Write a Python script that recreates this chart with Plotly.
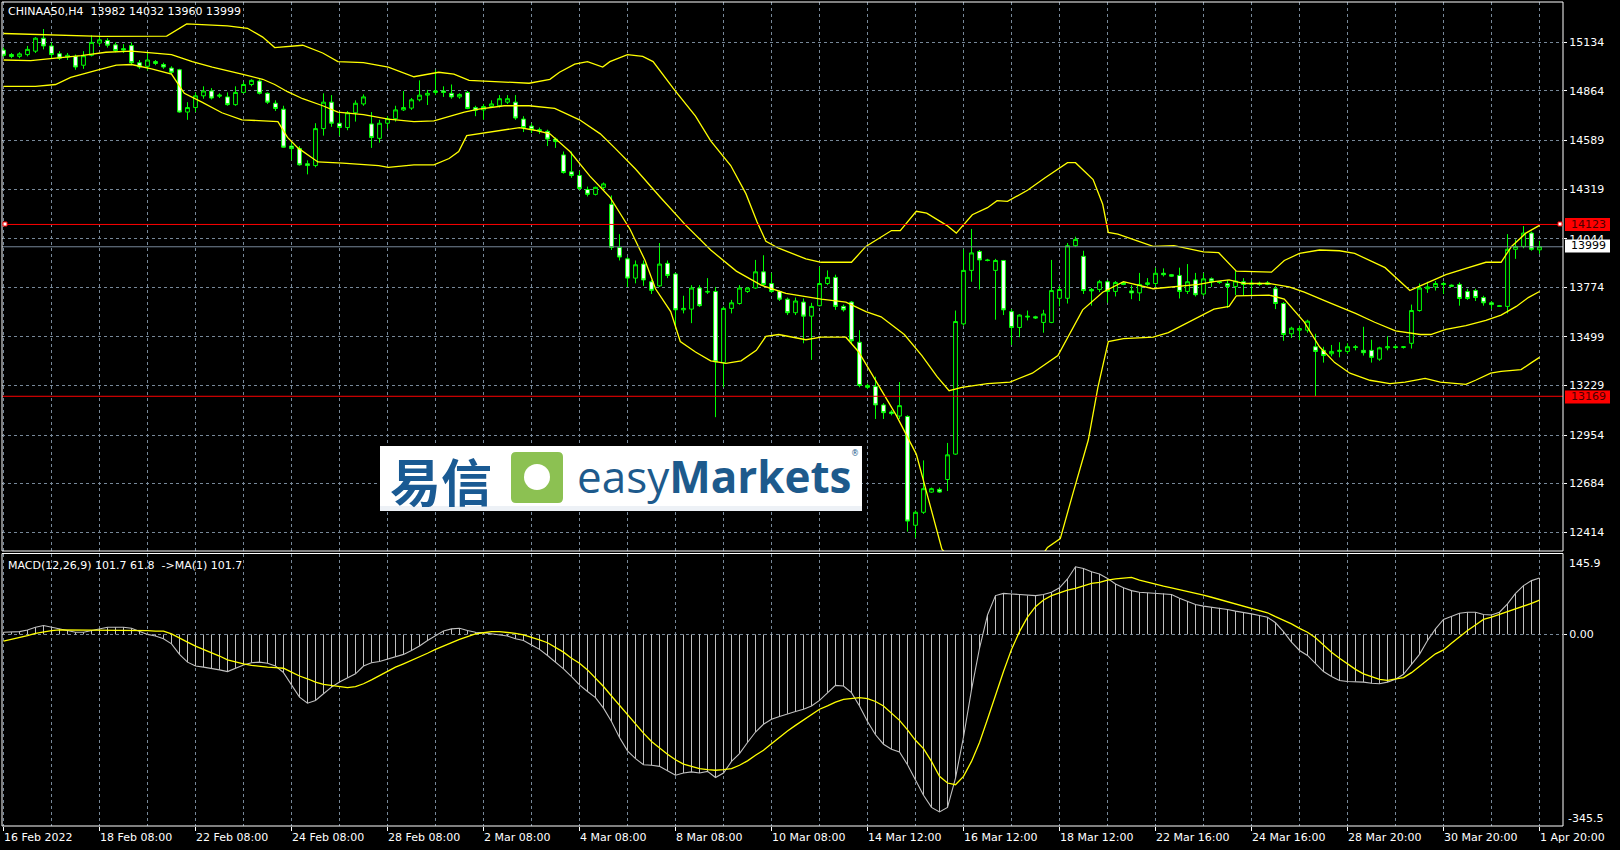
import plotly.graph_objects as go

# ------------------------------------------------------------------ data
symbol_title = "CHINAA50,H4\u00a0\u00a013982 14032 13960 13999"
macd_title = "MACD(12,26,9) 101.7 61.8\u00a0\u00a0->MA(1) 101.7"

opens = [
    15091, 15066, 15056, 15066, 15085, 15157, 15114, 15071, 15052, 15056,
    15007, 15062, 15130, 15144, 15120, 15099, 15116, 15021, 15001, 15027,
    15011, 14991, 14982, 14747, 14772, 14837, 14864, 14835, 14831, 14788,
    14856, 14900, 14919, 14851, 14796, 14763, 14558, 14544, 14460, 14450,
    14655, 14802, 14685, 14661, 14743, 14792, 14681, 14601, 14685, 14710,
    14759, 14769, 14815, 14841, 14856, 14864, 14851, 14831, 14856, 14772,
    14759, 14778, 14782, 14802, 14802, 14708, 14669, 14649, 14640, 14597,
    14509, 14415, 14395, 14317, 14290, 14329, 14235, 13995, 13932, 13825,
    13903, 13805, 13782, 13907, 13848, 13649, 13653, 13770, 13747, 13751,
    13356, 13657, 13684, 13751, 13770, 13860, 13795, 13751, 13708, 13633,
    13692, 13614, 13672, 13795, 13829, 13668, 13692, 13469, 13229, 13223,
    13121, 13082, 13059, 13057, 12453, 12525, 12637, 12652, 12707, 12848,
    13571, 13868, 13973, 13926, 13868, 13923, 13639, 13551, 13614, 13610,
    13579, 13579, 13713, 13713, 14005, 13946, 13762, 13762, 13805, 13751,
    13801, 13754, 13743, 13790, 13795, 13852, 13844, 13840, 13751, 13815,
    13737, 13821, 13805, 13794, 13778, 13805, 13790, 13797, 13790, 13766,
    13684, 13516, 13536, 13536, 13444, 13424, 13405, 13418, 13418, 13444,
    13424, 13424, 13375, 13438, 13444, 13440, 13463, 13645, 13766, 13776,
    13795, 13786, 13790, 13751, 13756, 13717, 13688, 13672, 13668, 13985,
    14001, 14075, 13982,
]
highs = [
    15105, 15075, 15079, 15114, 15163, 15208, 15134, 15085, 15075, 15066,
    15085, 15173, 15173, 15157, 15134, 15124, 15134, 15036, 15075, 15036,
    15021, 15001, 14987, 14802, 14856, 14890, 14880, 14851, 14856, 14890,
    14915, 14929, 14929, 14856, 14812, 14782, 14577, 14558, 14479, 14685,
    14851, 14841, 14747, 14753, 14812, 14845, 14747, 14704, 14724, 14782,
    14864, 14825, 14923, 14870, 14982, 14890, 14900, 14851, 14864, 14782,
    14792, 14812, 14841, 14841, 14841, 14724, 14685, 14661, 14649, 14606,
    14528, 14528, 14421, 14333, 14333, 14356, 14284, 14069, 13942, 13923,
    13923, 13815, 14020, 13923, 13854, 13727, 13786, 13786, 13825, 13776,
    13668, 13704, 13786, 13776, 13926, 13952, 13854, 13756, 13717, 13717,
    13712, 13688, 13887, 13868, 13844, 13678, 13698, 13536, 13239, 13278,
    13131, 13092, 13248, 13063, 12535, 12813, 12662, 12662, 12910, 13645,
    13985, 14098, 13981, 13932, 13932, 13926, 13653, 13624, 13645, 13616,
    13649, 13926, 13782, 14020, 14055, 13977, 13770, 13815, 13815, 13809,
    13805, 13786, 13854, 13825, 13883, 13879, 13848, 13883, 13903, 13854,
    13854, 13829, 13809, 13815, 13868, 13825, 13815, 13805, 13809, 13782,
    13692, 13555, 13561, 13594, 13516, 13444, 13454, 13469, 13463, 13454,
    13555, 13483, 13444, 13502, 13454, 13448, 13678, 13795, 13805, 13809,
    13805, 13790, 13801, 13766, 13766, 13727, 13698, 13676, 14069, 14040,
    14114, 14083, 14032,
]
lows = [
    15052, 15046, 15046, 15056, 15075, 15095, 15046, 15036, 15036, 14982,
    14987, 15056, 15114, 15105, 15079, 15075, 15007, 14987, 14978, 15007,
    14987, 14958, 14743, 14704, 14747, 14821, 14817, 14825, 14782, 14782,
    14851, 14890, 14845, 14792, 14753, 14548, 14479, 14450, 14401, 14440,
    14616, 14665, 14616, 14646, 14694, 14782, 14548, 14577, 14655, 14694,
    14753, 14759, 14806, 14786, 14841, 14831, 14821, 14821, 14763, 14724,
    14704, 14772, 14772, 14792, 14704, 14636, 14630, 14626, 14558, 14548,
    14405, 14382, 14313, 14278, 14284, 14313, 13981, 13923, 13776, 13796,
    13782, 13737, 13776, 13825, 13541, 13629, 13575, 13665, 13737, 13053,
    13219, 13629, 13678, 13743, 13766, 13782, 13743, 13698, 13620, 13620,
    13463, 13371, 13668, 13786, 13649, 13639, 13463, 13219, 13209, 13043,
    13043, 13063, 13043, 12418, 12383, 12516, 12633, 12633, 12643, 12844,
    13561, 13805, 13762, 13918, 13594, 13620, 13454, 13497, 13590, 13598,
    13522, 13575, 13668, 13684, 13997, 13737, 13672, 13747, 13688, 13723,
    13786, 13708, 13698, 13782, 13776, 13834, 13832, 13712, 13737, 13723,
    13727, 13776, 13793, 13659, 13731, 13727, 13727, 13782, 13786, 13653,
    13477, 13493, 13483, 13522, 13170, 13356, 13391, 13385, 13405, 13424,
    13395, 13356, 13366, 13424, 13430, 13434, 13434, 13639, 13743, 13756,
    13737, 13776, 13672, 13704, 13698, 13672, 13653, 13665, 13629, 13932,
    13991, 13977, 13960,
]
closes = [
    15062, 15056, 15070, 15095, 15157, 15114, 15066, 15046, 15062, 14997,
    15060, 15134, 15148, 15118, 15089, 15091, 15021, 14997, 15036, 15017,
    14997, 14968, 14747, 14772, 14837, 14864, 14825, 14841, 14788, 14856,
    14900, 14923, 14851, 14802, 14767, 14552, 14544, 14454, 14450, 14655,
    14802, 14685, 14661, 14743, 14796, 14831, 14606, 14685, 14710, 14759,
    14772, 14815, 14841, 14851, 14864, 14856, 14831, 14845, 14767, 14757,
    14778, 14792, 14821, 14821, 14714, 14661, 14649, 14642, 14597, 14583,
    14411, 14395, 14323, 14290, 14329, 14348, 13995, 13942, 13825, 13899,
    13815, 13757, 13903, 13840, 13649, 13657, 13770, 13672, 13751, 13360,
    13657, 13688, 13770, 13770, 13860, 13790, 13751, 13708, 13633, 13698,
    13614, 13668, 13795, 13829, 13668, 13649, 13477, 13229, 13219, 13121,
    13078, 13073, 13117, 12476, 12525, 12656, 12656, 12637, 12844, 13584,
    13868, 13965, 13926, 13923, 13923, 13649, 13551, 13620, 13610, 13604,
    13626, 13756, 13762, 14005, 14040, 13756, 13754, 13805, 13751, 13801,
    13790, 13743, 13790, 13799, 13852, 13844, 13836, 13751, 13805, 13733,
    13821, 13805, 13801, 13778, 13809, 13790, 13797, 13790, 13799, 13684,
    13512, 13547, 13545, 13586, 13418, 13395, 13418, 13424, 13444, 13440,
    13411, 13385, 13438, 13444, 13440, 13444, 13645, 13770, 13776, 13795,
    13790, 13780, 13712, 13712, 13717, 13688, 13678, 13668, 13985, 14001,
    14075, 13985, 13999,
]

# Bollinger bands: (bar index, price)
bb_upper = [
    (0, 15183), (5.9, 15177), (12.2, 15167), (20.4, 15169), (21.7, 15202), (22.9, 15236),
    (28, 15226), (30.5, 15212), (32.4, 15163), (33.9, 15105), (37.4, 15118), (39.9, 15075),
    (41.8, 15027), (45, 15021), (48.1, 14997), (51.3, 14943), (54.4, 14968), (56.3, 14958),
    (58.2, 14923), (62.6, 14913), (65.7, 14907), (68.3, 14929), (69.5, 14968), (71.4, 15013),
    (73, 15027), (74.9, 14997), (75.8, 15027), (78, 15066), (79.9, 15056), (81.2, 15027),
    (83.7, 14880), (86.5, 14724), (88.4, 14587), (90.9, 14450), (92.8, 14294), (94.2, 14137),
    (95.3, 14030), (96.9, 13991), (100.3, 13932), (102.2, 13913), (106, 13913), (107.8, 14001),
    (111, 14089), (112.1, 14089), (114.1, 14196), (115.4, 14186), (117.9, 14118), (119.1, 14075),
    (121.1, 14177), (123, 14216), (124.2, 14255), (125.5, 14251), (128, 14313), (130.2, 14382),
    (133, 14466), (134, 14466), (136.2, 14372), (137.4, 14235), (138.1, 14079), (139.3, 14069),
    (143.7, 14001), (146.3, 14005), (150, 13971), (151.9, 13966), (154.1, 13864), (158.5, 13858),
    (160.1, 13923), (162, 13962), (164.5, 13981), (167, 13977), (168.9, 13962), (172.7, 13883),
    (175.8, 13756), (177.1, 13782), (180.3, 13844), (182.8, 13879), (185.3, 13913), (187.2, 13913),
    (188.5, 14001), (190.3, 14075), (192, 14118),
]
bb_middle = [
    (0, 15036), (3.4, 15032), (6.5, 15046), (9.7, 15060), (12.8, 15079), (16, 15085),
    (18.5, 15075), (21, 15066), (23.6, 15027), (26.1, 14997), (29.8, 14958), (32.4, 14929),
    (33.9, 14900), (35.5, 14860), (37.4, 14821), (39.9, 14782), (41.8, 14747), (45, 14733),
    (48.1, 14708), (51.3, 14694), (53.8, 14698), (55.7, 14724), (57.6, 14747), (59.4, 14763),
    (62.6, 14782), (65.7, 14782), (68.9, 14767), (72, 14704), (74.6, 14626), (76.4, 14548),
    (79, 14431), (82.1, 14274), (85.3, 14118), (88.4, 13981), (91.6, 13864), (94.7, 13786),
    (97.8, 13740), (102.2, 13708), (105.3, 13692), (107.8, 13639), (109.7, 13610), (112.6, 13512),
    (114.8, 13395), (116.7, 13278), (118.2, 13200), (119.8, 13219), (123, 13239), (125.8, 13248),
    (128.6, 13297), (131.8, 13395), (133.7, 13551), (134.9, 13649), (137.4, 13747), (140, 13805),
    (143.7, 13766), (146.3, 13776), (149.4, 13790), (151.3, 13805), (153.2, 13815), (155.1, 13795),
    (158.2, 13795), (160.7, 13776), (162.6, 13747), (165.8, 13688), (169, 13629), (171.4, 13580),
    (174, 13532), (177.1, 13512), (178.4, 13512), (180.3, 13541), (182.8, 13561), (185.3, 13590),
    (187.2, 13620), (189.1, 13668), (190.6, 13717), (192, 13751),
]
bb_lower = [
    (0, 14890), (4, 14890), (6.5, 14900), (8.4, 14939), (11.6, 14978), (14.1, 15007),
    (16, 15011), (18.5, 14987), (21, 14958), (22.6, 14851), (24.8, 14802), (27.3, 14743),
    (29.8, 14704), (32.4, 14700), (34.3, 14694), (35.5, 14606), (36.8, 14548), (39.3, 14470),
    (42.4, 14464), (46.9, 14450), (48.1, 14440), (51.3, 14454), (53.8, 14454), (55.7, 14489),
    (56.9, 14528), (57.9, 14616), (60.1, 14630), (62.6, 14646), (64.5, 14661), (66.4, 14646),
    (68.3, 14626), (70.8, 14528), (73.3, 14391), (75.8, 14274), (78.3, 14098), (80.2, 13923),
    (81.5, 13766), (83.4, 13639), (84.6, 13473), (86.5, 13415), (88.4, 13366), (90.3, 13352),
    (92.2, 13366), (94.1, 13424), (95.3, 13502), (96.9, 13512), (100.3, 13483), (102.2, 13497),
    (105.3, 13497), (106.9, 13415), (108.2, 13317), (109.7, 13200), (111.6, 13063), (114.1, 12848),
    (115.4, 12633), (116.3, 12476), (117.3, 12320), (119, 12240), (121, 12200), (123, 12180),
    (125, 12170), (127, 12180), (129, 12230), (130.5, 12330), (132.1, 12379), (133.7, 12633),
    (135.6, 12926), (136.8, 13219), (138.1, 13473), (140, 13489), (143.7, 13497), (145.6, 13522),
    (149.4, 13610), (151.3, 13653), (153.2, 13668), (154.1, 13727), (158.2, 13731), (160.1, 13708),
    (162.6, 13581), (164.5, 13444), (166.4, 13356), (168.3, 13297), (170.8, 13258), (173.3, 13239),
    (175.2, 13248), (177.7, 13268), (179.6, 13248), (182.8, 13235), (184, 13258), (185.9, 13297),
    (187.2, 13307), (189.7, 13317), (191, 13356), (192, 13385),
]

macd_main = [
    4, 4, 5, 8, 13, 16, 13, 10, 8, 4,
    4, 7, 10, 13, 13, 13, 11, 5, 0, -3,
    -8, -17, -36, -50, -57, -59, -61, -64, -67, -61,
    -55, -51, -50, -52, -57, -69, -91, -113, -124, -119,
    -107, -95, -86, -78, -71, -57, -51, -49, -45, -40,
    -36, -29, -21, -11, -2, 6, 10, 11, 7, 4,
    3, 1, -1, -3, -8, -11, -19, -27, -38, -50,
    -62, -76, -91, -103, -114, -133, -157, -186, -210, -224,
    -235, -236, -238, -246, -254, -250, -248, -250, -247, -258,
    -250, -229, -215, -195, -176, -162, -153, -148, -143, -139,
    -135, -129, -119, -105, -92, -93, -105, -129, -157, -181,
    -198, -207, -212, -235, -262, -290, -312, -320, -312, -259,
    -185, -100, -25, 35, 70, 74, 73, 72, 70, 70,
    72, 76, 84, 100, 122, 119, 113, 109, 101, 91,
    84, 79, 76, 75, 74, 74, 72, 65, 60, 54,
    51, 49, 48, 45, 42, 40, 37, 34, 31, 21,
    5, -14, -29, -38, -52, -67, -76, -83, -85, -85,
    -86, -88, -89, -86, -81, -72, -55, -36, -11, 10,
    27, 33, 38, 40, 40, 36, 35, 40, 55, 74,
    88, 97, 101.7,
]
macd_signal = [
    -12, -9, -6, -2, 2, 5, 7, 8, 8, 8,
    8, 7, 7, 7, 7, 7, 7, 7, 7, 6,
    6, 1, -7, -14, -21, -27, -32, -39, -46, -50,
    -53, -56, -58, -59, -60, -61, -68, -75, -80, -86,
    -90, -92, -94, -96, -94, -89, -82, -74, -67, -59,
    -53, -47, -41, -34, -27, -21, -14, -9, -4, 1,
    3, 5, 5, 4, 2, -1, -5, -10, -15, -23,
    -32, -43, -52, -64, -79, -94, -111, -128, -145, -162,
    -178, -193, -205, -216, -226, -234, -238, -242, -244, -245,
    -244, -242, -236, -228, -218, -209, -197, -185, -174, -164,
    -154, -145, -135, -129, -122, -117, -115, -114, -116, -121,
    -129, -142, -155, -172, -191, -206, -229, -256, -268, -271,
    -256, -229, -195, -153, -109, -67, -27, 5, 31, 50,
    62, 70, 75, 80, 83, 88, 92, 94, 98, 100,
    102, 103, 98, 94, 91, 87, 84, 81, 77, 74,
    71, 67, 63, 59, 56, 52, 48, 44, 39, 32,
    26, 19, 11, 4, -6, -19, -32, -43, -53, -63,
    -71, -76, -81, -83, -81, -78, -69, -57, -46, -35,
    -28, -16, -4, 7, 17, 27, 31, 36, 40, 46,
    51, 56, 61.8,
]

time_labels = ["16 Feb 2022", "18 Feb 08:00", "22 Feb 08:00", "24 Feb 08:00", "28 Feb 08:00",
               "2 Mar 08:00", "4 Mar 08:00", "8 Mar 08:00", "10 Mar 08:00", "14 Mar 12:00",
               "16 Mar 12:00", "18 Mar 12:00", "22 Mar 16:00", "24 Mar 16:00", "28 Mar 20:00",
               "30 Mar 20:00", "1 Apr 20:00"]
bars_per_label = 12
bars_per_grid = 6
price_ticks = [15134, 14864, 14589, 14319, 14044, 13774, 13499, 13229, 12954, 12684, 12414]
level_upper = 14123
level_lower = 13169
bid_price = 13999
macd_top, macd_bottom = 145.9, -345.5

# ------------------------------------------------------------------ geometry
W, H = 1620, 850
ML, MR, MT, MB = 2, 57, 2, 24
PW, PH = W - ML - MR, H - MT - MB


def X(px):
    return (px - ML) / PW


def Y(py):
    return (H - MB - py) / PH


GRID = "#778899"
LIME = "#00FF00"
YEL = "#FFFF00"
SILVER = "#C0C0C0"
FONT = "DejaVu Sans"

n = len(closes)
idx = list(range(n))
x_range = [-0.1875, -0.1875 + PW / 8.0]
label_idx = [i * bars_per_label for i in range(len(time_labels))]

fig = go.Figure()

fig.add_trace(go.Candlestick(
    x=idx, open=opens, high=highs, low=lows, close=closes,
    increasing=dict(line=dict(color=LIME, width=1), fillcolor="#000000"),
    decreasing=dict(line=dict(color=LIME, width=1), fillcolor="#FFFFFF"),
    whiskerwidth=0, xaxis="x", yaxis="y", showlegend=False, hoverinfo="none"))

for band in (bb_upper, bb_middle, bb_lower):
    fig.add_trace(go.Scatter(x=[p[0] for p in band], y=[p[1] for p in band], mode="lines",
                             line=dict(color=YEL, width=1.3), xaxis="x", yaxis="y",
                             showlegend=False, hoverinfo="skip"))

hx, hy = [], []
for i, v in zip(idx, macd_main):
    hx += [i, i, None]
    hy += [0, v, None]
fig.add_trace(go.Scatter(x=hx, y=hy, mode="lines", line=dict(color=SILVER, width=1),
                         xaxis="x2", yaxis="y2", showlegend=False, hoverinfo="skip"))
fig.add_trace(go.Scatter(x=idx, y=macd_main, mode="lines", line=dict(color=SILVER, width=1.1),
                         xaxis="x2", yaxis="y2", showlegend=False, hoverinfo="skip"))
fig.add_trace(go.Scatter(x=idx, y=macd_signal, mode="lines", line=dict(color=YEL, width=1.3),
                         xaxis="x2", yaxis="y2", showlegend=False, hoverinfo="skip"))

grid_common = dict(showgrid=True, gridcolor=GRID, griddash="3px,3px", gridwidth=1, zeroline=False)
minor_grid = dict(tickmode="linear", tick0=0, dtick=bars_per_grid, showgrid=True,
                  gridcolor=GRID, griddash="3px,3px", gridwidth=1, ticks="")

main_bottom_py, macd_top_py = 551, 553.5
y_main_range = [12310, 15358]

fig.update_layout(
    width=W, height=H,
    margin=dict(l=ML, r=MR, t=MT, b=MB, pad=0),
    paper_bgcolor="#000000", plot_bgcolor="#000000",
    showlegend=False, boxgap=0.32, hovermode=False,
    font=dict(family=FONT, size=11, color="#FFFFFF"),
    xaxis=dict(domain=[0, 1], anchor="y", range=x_range, tickmode="array", tickvals=label_idx,
               showticklabels=False, ticks="", minor=minor_grid, showline=False,
               rangeslider=dict(visible=False), fixedrange=True, **grid_common),
    xaxis2=dict(domain=[0, 1], anchor="y2", range=x_range, tickmode="array", tickvals=label_idx,
                showticklabels=False, ticks="outside", ticklen=4, tickcolor="#FFFFFF", tickwidth=1,
                minor=minor_grid, showline=False, fixedrange=True, **grid_common),
    yaxis=dict(domain=[Y(main_bottom_py), 1], anchor="x", side="right", range=y_main_range,
               tickmode="array", tickvals=price_ticks, ticktext=[str(v) for v in price_ticks],
               ticks="outside", ticklen=3, tickcolor="#FFFFFF",
               tickfont=dict(family=FONT, size=11, color="#FFFFFF"), fixedrange=True, **grid_common),
    yaxis2=dict(domain=[0, Y(macd_top_py)], anchor="x2", side="right", range=[macd_bottom, macd_top],
                tickmode="array", tickvals=[0], ticktext=["0.00"], ticks="outside", ticklen=3,
                tickcolor="#FFFFFF", tickfont=dict(family=FONT, size=11, color="#FFFFFF"),
                fixedrange=True, **grid_common),
)

shapes = []
# horizontal price levels
for lvl, col in ((level_upper, "#FF0000"), (level_lower, "#FF0000"), (bid_price, GRID)):
    shapes.append(dict(type="line", xref="x domain", yref="y", x0=0, x1=1, y0=lvl, y1=lvl,
                       line=dict(color=col, width=1), layer="above"))
# panel frames
shapes.append(dict(type="rect", xref="x domain", yref="y domain", x0=0, x1=1, y0=0, y1=1,
                   line=dict(color="#FFFFFF", width=1), layer="above"))
shapes.append(dict(type="rect", xref="x2 domain", yref="y2 domain", x0=0, x1=1, y0=0, y1=1,
                   line=dict(color="#FFFFFF", width=1), layer="above"))
# end markers of the upper level line
for x0 in (3, 1558):
    shapes.append(dict(type="rect", xref="paper", yref="paper", x0=X(x0), x1=X(x0 + 4),
                       y0=Y(222), y1=Y(226), fillcolor="#FFFFFF",
                       line=dict(color="#FF0000", width=1), layer="above"))
# price label boxes on the right axis
label_boxes = [(level_upper, "#FF0000", "#4A0000", 218, 231),
               (bid_price, "#FFFFFF", "#000000", 239.5, 252.5),
               (level_lower, "#FF0000", "#4A0000", 390.5, 403.5)]
annotations = []
for val, col, tcol, t, b in label_boxes:
    shapes.append(dict(type="rect", xref="paper", yref="paper", x0=X(1565), x1=X(1610),
                       y0=Y(b), y1=Y(t), fillcolor=col, line=dict(width=0), layer="above"))
    annotations.append(dict(xref="paper", yref="paper", x=X(1569), y=Y((t + b) / 2),
                            xanchor="left", yanchor="middle", showarrow=False, text=str(val),
                            font=dict(family=FONT, size=11, color=tcol)))

# logo
shapes.append(dict(type="rect", xref="paper", yref="paper", x0=X(380), x1=X(862), y0=Y(511), y1=Y(446),
                   fillcolor="#FFFFFF", line=dict(width=0), layer="above"))
shapes.append(dict(type="rect", xref="paper", yref="paper", x0=X(380), x1=X(862), y0=Y(511), y1=Y(506),
                   fillcolor="#EDF1F6", line=dict(width=0), layer="above"))


def rrect(x0, y0, x1, y1, r):
    p = lambda a, b: f"{X(a)},{Y(b)}"
    return (f"M {p(x0 + r, y0)} L {p(x1 - r, y0)} Q {p(x1, y0)} {p(x1, y0 + r)} "
            f"L {p(x1, y1 - r)} Q {p(x1, y1)} {p(x1 - r, y1)} L {p(x0 + r, y1)} "
            f"Q {p(x0, y1)} {p(x0, y1 - r)} L {p(x0, y0 + r)} Q {p(x0, y0)} {p(x0 + r, y0)} Z")


shapes.append(dict(type="path", xref="paper", yref="paper", path=rrect(511, 452, 563, 503, 5),
                   fillcolor="#8CC152", line=dict(width=0), layer="above"))
shapes.append(dict(type="circle", xref="paper", yref="paper", x0=X(524), x1=X(550), y0=Y(490), y1=Y(464),
                   fillcolor="#FFFFFF", line=dict(width=0), layer="above"))

annotations += [
    dict(xref="paper", yref="paper", x=X(441), y=Y(480), xanchor="center", yanchor="middle",
         showarrow=False, text="易信",
         font=dict(family="Noto Sans CJK SC", size=51, color="#1A5A93", weight="bold")),
    dict(xref="paper", yref="paper", x=X(575), y=Y(476), xanchor="left", yanchor="middle",
         showarrow=False, text="easy<b>Markets</b>",
         font=dict(family="Open Sans", size=44, color="#1D5A8C")),
    dict(xref="paper", yref="paper", x=X(855), y=Y(453), xanchor="center", yanchor="middle",
         showarrow=False, text="®", font=dict(family="DejaVu Sans", size=8, color="#1D5A8C")),
    dict(xref="paper", yref="paper", x=X(6), y=Y(12), xanchor="left", yanchor="middle",
         showarrow=False, text=symbol_title, font=dict(family=FONT, size=11, color="#FFFFFF")),
    dict(xref="paper", yref="paper", x=X(6), y=Y(565), xanchor="left", yanchor="middle",
         showarrow=False, text=macd_title, font=dict(family=FONT, size=11, color="#FFFFFF")),
    dict(xref="paper", yref="paper", x=X(1567), y=Y(563), xanchor="left", yanchor="middle",
         showarrow=False, text=f"{macd_top}", font=dict(family=FONT, size=11, color="#FFFFFF")),
    dict(xref="paper", yref="paper", x=X(1566), y=Y(818), xanchor="left", yanchor="middle",
         showarrow=False, text=f"{macd_bottom}", font=dict(family=FONT, size=11, color="#FFFFFF")),
]
for li, txt in zip(label_idx, time_labels):
    annotations.append(dict(xref="x2", yref="paper", x=li, y=Y(837), xanchor="left", yanchor="middle",
                            xshift=-2, showarrow=False, text=txt,
                            font=dict(family=FONT, size=11, color="#FFFFFF")))

fig.update_layout(shapes=shapes, annotations=annotations)

fig.write_html("out.html", include_plotlyjs=True, full_html=True,
               config={"displayModeBar": False, "staticPlot": True},
               post_script="document.body.style.margin='0';document.body.style.overflow='hidden';")
